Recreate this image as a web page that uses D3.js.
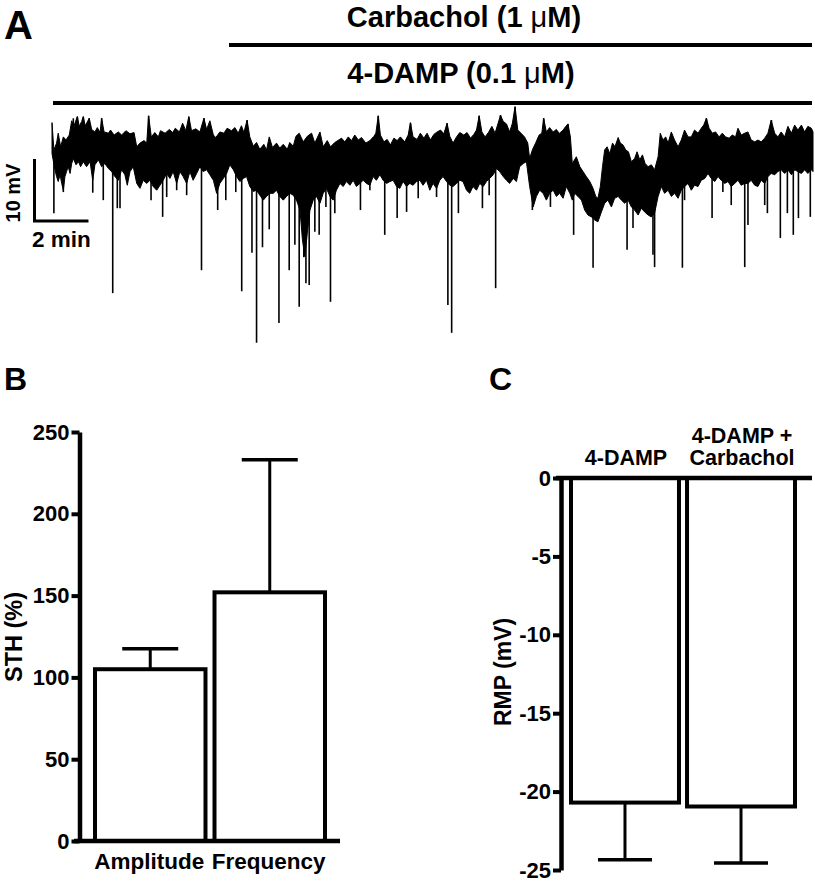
<!DOCTYPE html>
<html>
<head>
<meta charset="utf-8">
<script src="https://cdn.jsdelivr.net/npm/d3@7"></script>
<style>
  html, body { margin: 0; padding: 0; background: #fff; }
  svg text { font-family: "Liberation Sans", Arial, Helvetica, sans-serif; font-weight: bold; fill: #000; }
</style>
</head>
<body>
<svg id="chart" width="815" height="886"></svg>
<script>
// ---------- Panel A: membrane potential trace (time in min, relative mV) ----------
// upper edge of the noisy trace
const upperTime = [0.00,0.07,0.17,0.23,0.32,0.42,0.52,0.64,0.73,0.81,0.94,1.01,1.10,1.16,1.23,1.38,1.47,1.59,1.68,1.78,1.84,1.93,2.09,2.17,2.30,2.46,2.58,2.74,2.89,3.04,3.14,3.26,3.41,3.51,3.58,3.68,3.81,3.94,4.02,4.19,4.35,4.47,4.57,4.72,4.84,4.96,5.07,5.17,5.33,5.48,5.63,5.73,5.85,5.98,6.07,6.22,6.37,6.49,6.65,6.78,6.90,7.02,7.11,7.23,7.33,7.46,7.58,7.70,7.85,7.95,8.05,8.17,8.32,8.44,8.57,8.72,8.81,8.94,9.04,9.16,
  9.31,9.46,9.62,9.74,9.93,10.05,10.20,10.32,10.48,10.73,10.85,10.98,11.10,11.22,11.35,11.47,11.63,11.78,11.93,12.00,12.09,12.17,12.30,12.42,12.54,12.67,12.79,12.91,13.07,13.20,13.28,13.38,13.53,13.65,13.78,13.90,14.02,14.15,14.27,14.40,14.52,14.64,14.74,14.86,14.99,15.11,15.26,15.38,15.51,15.63,15.73,15.83,15.93,16.05,16.17,16.30,16.42,16.53,16.62,16.72,16.84,16.96,17.06,17.16,17.26,17.38,17.51,17.63,17.70,17.80,17.93,18.05,18.15,18.22,18.32,18.44,18.57,18.69,18.79,
  18.81,18.94,19.04,19.12,19.21,19.28,19.43,19.56,19.68,19.80,19.93,20.05,20.15,20.23,20.32,20.40,20.48,20.57,20.67,20.77,20.86,20.98,21.06,21.16,21.26,21.36,21.47,21.59,21.68,21.78,21.88,21.98,22.09,22.21,22.33,22.46,22.54,22.64,22.74,22.83,22.95,23.07,23.20,23.32,23.44,23.57,23.69,23.81,23.94,24.06,24.15,24.25,24.35,24.47,24.59,24.72,24.84,24.96,25.09,25.21,25.33,25.42,25.54,25.67,25.79,25.91,26.04,26.16,26.28,26.41,26.53,26.65,26.78,26.90,27.02,27.15,27.27,27.40,27.52,27.64,27.77,27.89,28.01,28.14,28.20];
const upperMV = [2.8,-1.6,-0.5,1.1,-1.1,0.5,0.0,0.8,3.1,2.2,3.8,2.2,3.0,3.8,2.3,3.5,1.7,1.3,2.0,1.2,3.5,1.3,1.1,1.6,0.8,1.3,0.8,1.5,1.0,1.2,-1.1,-0.5,-0.1,-0.5,3.9,0.5,1.2,0.5,1.5,1.1,1.7,1.2,1.9,1.3,2.7,1.5,3.8,1.5,1.8,1.3,3.5,1.7,3.1,0.8,0.4,1.3,1.1,1.9,1.5,2.0,1.1,2.3,1.2,3.2,0.5,-1.0,-0.4,-1.5,-0.7,-1.6,0.5,-1.2,-0.5,-1.3,-0.7,-1.5,-0.4,-1.0,0.6,1.1,
  -0.3,0.6,1.1,-0.5,1.3,-1.1,-0.1,-1.1,-0.4,0.3,-0.3,0.5,-0.1,0.8,0.0,0.4,-0.5,-0.1,0.6,1.1,3.9,0.8,-0.3,0.1,-0.8,0.3,-0.1,0.5,-0.3,0.8,2.8,0.5,0.1,1.1,0.3,1.1,0.0,0.9,1.3,1.6,1.0,2.7,0.6,-0.5,0.5,1.2,0.8,1.2,0.3,0.9,1.6,3.9,1.3,0.5,1.2,2.2,1.1,2.7,4.0,3.0,2.6,1.3,2.7,5.4,1.6,1.1,0.5,-0.5,-3.0,-1.6,-0.4,0.8,1.1,3.5,1.3,2.0,1.3,1.7,1.1,
  1.1,1.6,2.2,2.6,0.5,-3.8,-2.7,-4.3,-5.1,-5.9,-6.7,-7.8,-9.1,-9.4,-7.5,-4.3,-1.6,-1.1,-2.2,-0.5,-1.1,0.4,-0.5,-0.8,-1.6,-1.9,-3.5,-3.0,-1.9,-3.2,-2.4,-3.8,-4.3,-4.0,-4.8,-2.7,1.1,0.0,0.5,-0.5,1.3,0.0,-1.1,0.0,1.6,0.5,0.5,1.6,1.1,1.9,2.4,3.5,1.9,1.1,1.3,0.5,1.1,0.5,0.3,0.8,0.5,1.9,0.8,1.1,1.3,0.0,-0.3,0.0,-0.3,0.3,1.1,3.2,1.1,0.5,1.3,0.5,2.2,1.1,2.4,1.6,2.4,1.3,2.2,1.9,1.3];
// lower edge of the noisy trace
const lowerTime = [0.00,0.11,0.17,0.23,0.30,0.36,0.42,0.48,0.54,0.60,0.67,0.73,0.79,0.89,0.98,1.06,1.16,1.28,1.41,1.51,1.59,1.72,1.84,1.96,2.09,2.21,2.33,2.46,2.58,2.70,2.79,2.89,3.01,3.14,3.26,3.38,3.51,3.63,3.75,3.88,4.00,4.12,4.25,4.37,4.49,4.62,4.74,4.86,4.99,5.11,5.23,5.36,5.48,5.60,5.73,5.85,5.98,6.10,6.22,6.35,6.47,6.59,6.72,6.84,6.96,7.09,7.21,7.33,7.46,7.58,7.70,7.83,7.95,8.07,8.20,8.32,8.44,8.57,8.69,8.81,8.94,9.06,
  9.19,9.28,9.37,9.46,9.56,9.68,9.80,9.93,10.05,10.17,10.30,10.42,10.54,10.67,10.79,10.91,11.04,11.16,11.28,11.41,11.53,11.65,11.78,11.90,12.02,12.15,12.27,12.40,12.52,12.64,12.77,12.89,13.01,13.14,13.26,13.38,13.51,13.63,13.75,13.88,14.00,14.12,14.25,14.37,14.49,14.62,14.74,14.86,14.99,15.11,15.23,15.36,15.48,15.60,15.73,15.85,15.98,16.10,16.22,16.35,16.47,16.59,16.72,16.84,16.96,17.09,17.21,17.33,17.46,17.58,17.70,17.83,17.95,18.07,18.20,18.32,18.44,18.57,18.69,
  18.81,18.94,19.06,19.19,19.28,19.37,19.49,19.62,19.74,19.86,19.99,20.11,20.23,20.36,20.48,20.60,20.73,20.85,20.98,21.10,21.22,21.35,21.47,21.59,21.72,21.84,21.96,22.09,22.21,22.33,22.46,22.58,22.70,22.83,22.95,23.07,23.20,23.32,23.44,23.57,23.69,23.81,23.94,24.06,24.19,24.31,24.43,24.56,24.68,24.80,24.93,25.05,25.17,25.30,25.42,25.54,25.67,25.79,25.91,26.04,26.16,26.28,26.41,26.53,26.65,26.78,26.90,27.02,27.15,27.27,27.40,27.52,27.64,27.77,27.89,28.01,28.14,28.20];
const lowerMV = [-2.2,-4.8,-5.9,-6.7,-5.6,-7.0,-8.1,-5.9,-5.1,-4.3,-5.4,-3.8,-3.0,-4.0,-3.5,-4.3,-3.5,-4.3,-3.5,-6.5,-4.0,-3.2,-4.3,-3.8,-4.6,-5.1,-5.9,-6.5,-4.8,-5.6,-7.3,-5.1,-4.3,-7.0,-7.8,-6.5,-7.0,-6.5,-7.5,-8.1,-7.3,-6.5,-5.4,-6.2,-5.1,-7.0,-5.1,-5.9,-7.0,-5.1,-6.5,-5.4,-4.3,-5.1,-4.8,-5.6,-6.5,-8.6,-7.0,-6.2,-5.4,-4.0,-4.8,-5.9,-6.7,-6.2,-5.9,-7.5,-8.3,-8.1,-8.9,-9.7,-9.1,-8.6,-8.6,-8.1,-9.1,-9.7,-9.1,-8.6,-8.9,-9.7,
  -11.3,-16.1,-18.8,-15.1,-11.3,-9.7,-9.1,-10.2,-8.6,-7.8,-9.1,-9.7,-8.1,-7.0,-7.5,-6.7,-7.3,-6.5,-7.5,-7.0,-6.5,-7.0,-7.3,-5.9,-6.5,-5.6,-6.5,-7.0,-6.7,-6.5,-7.5,-7.8,-6.7,-7.5,-7.0,-7.3,-6.7,-6.5,-7.3,-6.5,-8.1,-7.0,-7.8,-6.5,-5.9,-6.7,-7.3,-7.5,-7.0,-6.5,-6.7,-8.1,-8.6,-7.5,-8.1,-7.0,-7.5,-6.7,-6.2,-5.6,-4.6,-5.1,-5.9,-6.5,-7.0,-6.2,-6.7,-4.3,-3.8,-3.5,-7.5,-10.8,-9.1,-8.1,-8.6,-9.7,-8.6,-8.1,-9.1,
  -8.6,-9.4,-7.5,-8.6,-9.7,-8.6,-9.1,-9.7,-11.3,-12.1,-12.4,-12.9,-13.2,-11.6,-10.2,-9.7,-10.8,-9.4,-9.1,-9.7,-10.2,-9.7,-10.8,-11.3,-12.1,-11.0,-11.6,-12.1,-12.4,-11.8,-9.1,-7.5,-8.6,-8.1,-9.1,-8.6,-9.4,-8.1,-7.5,-7.0,-8.1,-7.3,-7.5,-6.5,-6.2,-5.4,-6.2,-6.7,-5.9,-6.5,-7.0,-6.7,-7.5,-7.0,-6.5,-7.3,-7.0,-7.0,-6.5,-7.3,-7.5,-6.5,-7.0,-5.9,-5.4,-5.6,-5.1,-4.8,-5.4,-4.8,-5.6,-4.8,-5.1,-5.4,-4.8,-5.4,-4.8,-5.1];
// individual fast deflections (peak value, mV)
const spikeTime = [0.07,0.42,0.79,0.94,1.16,1.38,1.51,1.84,1.90,2.25,2.42,2.52,2.77,3.58,3.67,4.10,4.25,4.62,4.99,5.07,5.54,5.63,6.14,6.44,6.81,7.03,7.23,7.41,7.58,7.80,8.05,8.41,8.79,9.00,9.16,9.33,9.41,9.53,9.74,9.90,10.15,10.32,10.48,11.43,11.78,12.09,12.33,12.79,13.14,13.29,13.57,14.25,14.64,14.67,14.81,15.06,15.83,15.95,16.20,16.44,16.62,17.16,17.80,18.22,18.47,19.12,19.33,20.05,21.31,21.53,22.27,22.33,23.36,23.44,24.25,24.46,24.86,25.17,25.67,25.79,26.41,26.51,26.66,26.99,27.25,27.47,27.66,28.10];
const spikePeak = [-11.8,-8.4,3.5,3.7,3.7,3.5,-8.5,3.5,-9.7,-24.7,-11.0,-11.0,-6.5,3.9,-9.7,-12.4,-9.2,-8.1,-8.9,3.7,-21.0,3.5,-11.3,-9.7,-8.4,-24.4,3.2,-18.2,-32.7,-17.3,-14.4,-29.5,-21.0,-16.9,-26.9,-18.9,-23.1,-23.4,-14.8,-15.3,-10.8,-26.1,-11.8,-11.3,-8.1,3.9,-15.3,-12.6,-11.6,2.7,-9.4,-9.2,2.7,-26.6,-31.1,-11.8,3.9,-11.0,-8.9,-23.9,4.0,5.3,-11.3,3.5,-10.8,2.6,-15.3,-20.6,-17.7,-14.2,-18.5,-20.5,-20.6,-9.7,3.5,-12.6,-8.4,-10.5,-20.5,-13.7,-10.5,-11.8,3.2,-15.8,-11.8,-15.3,-12.6,-12.4];
const drugBars = [
  { label: "Carbachol (1 ", start: 6.5 },
  { label: "4-DAMP (0.1 ", start: 0.03 }
];
const scaleBarMin = 2;
const scaleBarMV = 10;

// ---------- Panel B ----------
const bCategories = ["Amplitude", "Frequency"];
const bMeans = [105, 152];
const bErrors = [12.5, 81];
const bTicks = [0, 50, 100, 150, 200, 250];
const bAxisTitle = "STH (%)";

// ---------- Panel C ----------
const cCategories = ["4-DAMP", "4-DAMP + Carbachol"];
const cLabelLines = [["4-DAMP"], ["4-DAMP +", "Carbachol"]];
const cMeans = [-20.7, -20.95];
const cErrors = [3.65, 3.6];
const cTicks = [0, -5, -10, -15, -20, -25];
const cAxisTitle = "RMP (mV)";

const svg = d3.select("#chart");

// ===== Panel A =====
const xT = d3.scaleLinear().domain([0, 28.2]).range([52, 813]);
const yV = d3.scaleLinear().domain([-35, 5]).range([357, 109]);

svg.append("text").attr("x", 4).attr("y", 39).style("font-size", "40px").text("A");

const drugY = [45, 103];
const drugTextY = [27, 83];
const drugTextX = [464, 461];
drugBars.forEach((d, i) => {
  svg.append("line")
    .attr("x1", xT(d.start) < 60 ? 53 : 229).attr("x2", 812)
    .attr("y1", drugY[i]).attr("y2", drugY[i])
    .attr("stroke", "#000").attr("stroke-width", 4);
  const t = svg.append("text").attr("x", drugTextX[i]).attr("y", drugTextY[i])
    .attr("text-anchor", "middle").style("font-size", "29px");
  t.append("tspan").text(d.label);
  t.append("tspan").style("font-weight", "normal").text("\u03BC");
  t.append("tspan").text("M)");
});

// trace band: upper edge forward, lower edge backward
const upperPts = upperTime.map((t, i) => [xT(t), yV(upperMV[i])]);
const lowerPts = lowerTime.map((t, i) => [xT(t), yV(lowerMV[i])]).reverse();
svg.append("path")
  .attr("d", d3.line()(upperPts.concat(lowerPts)) + "Z")
  .attr("fill", "#000").attr("stroke", "#000").attr("stroke-width", 1).attr("stroke-linejoin", "miter");

function interp(ts, vs, t) {
  const i = Math.max(1, Math.min(ts.length - 1, d3.bisectLeft(ts, t)));
  const f = (t - ts[i - 1]) / ((ts[i] - ts[i - 1]) || 1);
  return vs[i - 1] + (vs[i] - vs[i - 1]) * Math.max(0, Math.min(1, f));
}
const bandMid = t => (interp(upperTime, upperMV, t) + interp(lowerTime, lowerMV, t)) / 2;
svg.append("g").selectAll("line").data(spikeTime.map((t, i) => ({ t, v: spikePeak[i] })))
  .join("line")
  .attr("x1", d => xT(d.t)).attr("x2", d => xT(d.t))
  .attr("y1", d => yV(bandMid(d.t))).attr("y2", d => yV(d.v))
  .attr("stroke", "#000").attr("stroke-width", 1.6);

// scale bar
const sbX = 34.5, sbY = 221;
svg.append("path")
  .attr("d", `M${sbX},${sbY - (yV(0) - yV(scaleBarMV))} V${sbY} H${sbX + (xT(scaleBarMin) - xT(0))}`)
  .attr("fill", "none").attr("stroke", "#000").attr("stroke-width", 3);
svg.append("text").attr("transform", "translate(20,193) rotate(-90)")
  .attr("text-anchor", "middle").style("font-size", "20px").text(scaleBarMV + " mV");
svg.append("text").attr("x", 32).attr("y", 247).style("font-size", "22.5px").text(scaleBarMin + " min");

// ===== Panel B =====
svg.append("text").attr("x", 4).attr("y", 390).style("font-size", "32px").text("B");
const yB = d3.scaleLinear().domain([0, 250]).range([841, 432]);
const xB = d3.scaleBand().domain(bCategories).range([93, 327]).paddingInner(0.042);
const axB = svg.append("g").attr("transform", "translate(79.5,0)")
  .call(d3.axisLeft(yB).tickValues(bTicks).tickSize(8).tickSizeOuter(0).tickPadding(2).tickFormat(d => String(d)));
axB.select(".domain").attr("stroke-width", 4.5);
axB.selectAll(".tick line").attr("stroke-width", 4);
axB.selectAll(".tick text").style("font-size", "22px").style("font-family", "'Liberation Sans', Arial, sans-serif").style("font-weight", "bold");
svg.append("text").attr("transform", "translate(22,637) rotate(-90)")
  .attr("text-anchor", "middle").style("font-size", "23.5px").text(bAxisTitle);

const sw = 4;
bCategories.forEach((c, i) => {
  const x0 = xB(c), w = xB.bandwidth(), cx = x0 + w / 2;
  const top = yB(bMeans[i] + bErrors[i]);
  svg.append("line").attr("x1", cx).attr("x2", cx).attr("y1", yB(bMeans[i])).attr("y2", top)
    .attr("stroke", "#000").attr("stroke-width", 3);
  svg.append("line").attr("x1", cx - 28).attr("x2", cx + 28).attr("y1", top).attr("y2", top)
    .attr("stroke", "#000").attr("stroke-width", 3.5);
  svg.append("rect").attr("x", x0 + sw / 2).attr("width", w - sw)
    .attr("y", yB(bMeans[i])).attr("height", yB(0) - yB(bMeans[i]))
    .attr("fill", "#fff").attr("stroke", "#000").attr("stroke-width", sw);
  svg.append("text").attr("x", cx - 1).attr("y", 869).attr("text-anchor", "middle")
    .style("font-size", "22.5px").text(c);
});
svg.append("line").attr("x1", 74).attr("x2", 340).attr("y1", yB(0)).attr("y2", yB(0))
  .attr("stroke", "#000").attr("stroke-width", 4.5);

// ===== Panel C =====
svg.append("text").attr("x", 489).attr("y", 390).style("font-size", "32px").text("C");
const yC = d3.scaleLinear().domain([-25, 0]).range([870, 478]);
const xC = d3.scaleBand().domain(cCategories).range([569, 797]).paddingInner(0.035);
const axC = svg.append("g").attr("transform", "translate(561,0)")
  .call(d3.axisLeft(yC).tickValues(cTicks).tickSize(8).tickSizeOuter(0).tickPadding(2).tickFormat(d => String(d)));
axC.select(".domain").attr("stroke-width", 4.5);
axC.selectAll(".tick line").attr("stroke-width", 4);
axC.selectAll(".tick text").style("font-size", "22px").style("font-family", "'Liberation Sans', Arial, sans-serif").style("font-weight", "bold");
svg.append("text").attr("transform", "translate(511,672) rotate(-90)")
  .attr("text-anchor", "middle").style("font-size", "23px").text(cAxisTitle);

cCategories.forEach((c, i) => {
  const x0 = xC(c), w = xC.bandwidth(), cx = x0 + w / 2;
  const bot = yC(cMeans[i] - cErrors[i]);
  svg.append("line").attr("x1", cx).attr("x2", cx).attr("y1", yC(cMeans[i])).attr("y2", bot)
    .attr("stroke", "#000").attr("stroke-width", 3);
  svg.append("line").attr("x1", cx - 27).attr("x2", cx + 27).attr("y1", bot).attr("y2", bot)
    .attr("stroke", "#000").attr("stroke-width", 3.5);
  svg.append("rect").attr("x", x0 + sw / 2).attr("width", w - sw)
    .attr("y", yC(0)).attr("height", yC(cMeans[i]) - yC(0))
    .attr("fill", "#fff").attr("stroke", "#000").attr("stroke-width", sw);
  const lines = cLabelLines[i];
  lines.forEach((ln, j) => {
    svg.append("text").attr("x", cx + 1).attr("y", 465 - (lines.length - 1 - j) * 22)
      .attr("text-anchor", "middle").style("font-size", "21.5px").text(ln);
  });
});
svg.append("line").attr("x1", 556).attr("x2", 812).attr("y1", yC(0)).attr("y2", yC(0))
  .attr("stroke", "#000").attr("stroke-width", 4.5);
</script>
</body>
</html>
